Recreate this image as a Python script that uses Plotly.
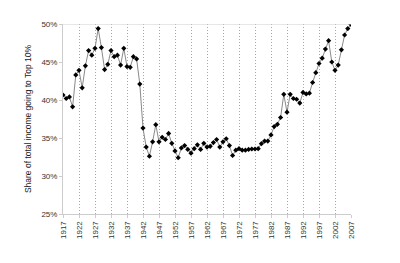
import plotly.graph_objects as go

years = list(range(1917, 2008))
share = [40.66, 40.2, 40.4, 39.1, 43.3, 43.9, 41.6, 44.5, 46.5, 45.9,
         46.8, 49.4, 46.9, 44.0, 44.7, 46.5, 45.7, 45.9, 44.6, 46.8,
         44.4, 44.3, 45.7, 45.4, 42.1, 36.3, 33.8, 32.6, 34.5, 36.75,
         34.5, 35.1, 34.8, 35.6, 34.3, 33.3, 32.4, 33.7, 34.0, 33.5,
         33.0, 33.6, 34.1, 33.5, 34.3, 33.8, 33.9, 34.4, 34.8, 33.8,
         34.5, 34.9, 34.0, 32.7, 33.4, 33.6, 33.4, 33.4, 33.5, 33.55,
         33.55, 33.6, 34.25, 34.6, 34.6, 35.4, 36.5, 36.8, 37.7, 40.75,
         38.4, 40.75, 40.2, 40.1, 39.6, 41.0, 40.8, 40.9, 42.3, 43.6,
         44.8, 45.5, 46.7, 47.8, 45.0, 43.9, 44.6, 46.6, 48.55, 49.4,
         49.95]
share_frac = [v / 100 for v in share]
xticks = list(range(1917, 2008, 5))
yticks = [0.25, 0.30, 0.35, 0.40, 0.45, 0.50]
ytitle = "Share of total income going to Top 10%"

fig = go.Figure()
fig.add_trace(go.Scatter(
    x=years, y=share_frac, mode="lines+markers",
    line=dict(color="#8a8a8a", width=1),
    marker=dict(symbol="diamond", size=4, color="black"),
    showlegend=False,
))
fig.add_hline(y=0.50, line=dict(color="#d0d0d0", width=1))
fig.update_layout(
    width=400, height=263,
    margin=dict(l=63, r=49, t=24, b=49),
    paper_bgcolor="white", plot_bgcolor="white",
    font=dict(family="Liberation Sans, Arial, sans-serif", size=8, color="#333"),
    xaxis=dict(
        range=[1917, 2007], tickvals=xticks, ticktext=[str(t) for t in xticks],
        tickangle=-90, showgrid=True, gridcolor="#a8a8a8", griddash="1px,2px", gridwidth=1,
        showline=True, linecolor="#cccccc", linewidth=1,
        ticks="outside", ticklen=3, tickcolor="#cccccc", zeroline=False,
    ),
    yaxis=dict(
        range=[0.25, 0.50], tickvals=yticks, tickformat=".0%",
        showgrid=False, showline=True, linecolor="#cccccc", linewidth=1,
        ticks="outside", ticklen=3, tickcolor="#cccccc", zeroline=False,
        title=dict(text=ytitle, font=dict(size=8.5, color="#222"), standoff=8),
    ),
)
fig.write_html("out.html")
